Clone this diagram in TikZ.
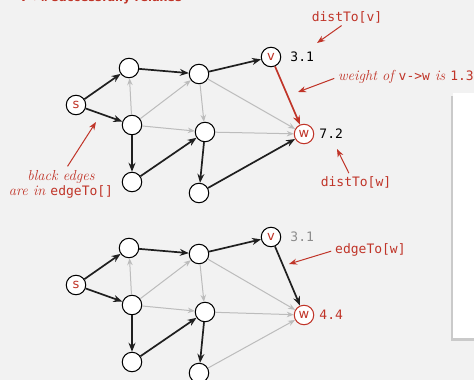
\documentclass[tikz,border=0pt]{standalone}
\usepackage{fontspec}
\setsansfont{DejaVu Sans}
\setmonofont{DejaVu Sans Mono}
\usetikzlibrary{positioning,arrows.meta,shadows}

\definecolor{relaxred}{RGB}{192,52,40}
\definecolor{paper}{RGB}{242,242,242}
\definecolor{lightedge}{RGB}{188,188,188}
\definecolor{olddist}{RGB}{140,140,140}

\newcommand{\remark}[1]{{\rmfamily\itshape\fontsize{14.5}{17}\selectfont #1}}

\tikzset{
  vertex/.style={circle,draw,fill=white,line width=1pt,minimum size=19.5pt,inner sep=0pt,
    text=relaxred,font=\sffamily\fontsize{13}{13}\selectfont},
  tree/.style={-{Stealth[length=9pt,width=7pt]},line width=1.7pt,black!88},
  other/.style={-{Stealth[length=7pt,width=5.5pt]},line width=1pt,lightedge},
  dist/.style={font=\ttfamily\fontsize{13}{15}\selectfont,inner sep=1pt},
  note/.style={text=relaxred,font=\ttfamily\fontsize{13}{15}\selectfont,inner sep=2pt},
  pointer/.style={-{Stealth[length=8pt,width=6pt]},line width=1pt,relaxred}
}

\begin{document}
\begin{tikzpicture}[x=1pt,y=-1pt]
  \useasboundingbox (0,0) rectangle (474,380);
  \fill[paper] (0,0) rectangle (474,380);
  % panel at the right
  \path[fill=white,drop shadow={shadow xshift=-2pt,shadow yshift=-3pt,opacity=0.35}]
    (453,93) rectangle (482,338);
  % title
  \node[anchor=base west,inner sep=0pt,text=relaxred,font=\sffamily\bfseries\fontsize{11.5}{13}\selectfont]
    (title) at (20,1.5) {\texttt{v->w} successfully relaxes};

  % before the relaxation
  \node[vertex] (s) at (76,105) {s};
  \node[vertex] (a) at (129,68) {};
  \node[vertex] (b) at (132,125) {};
  \node[vertex] (c) at (132,182) {};
  \node[vertex] (d) at (199,74) {};
  \node[vertex] (e) at (205,132) {};
  \node[vertex] (f) at (199,193) {};
  \node[vertex] (v) at (271,57) {v};
  \node[vertex,draw=relaxred] (w) at (304,134) {w};
  \draw[other] (b) -- (a);
  \draw[other] (b) -- (d);
  \draw[other] (b) -- (e);
  \draw[other] (d) -- (e);
  \draw[other] (d) -- (w);
  \draw[other] (e) -- (w);
  \draw[tree] (s) -- (a);
  \draw[tree] (s) -- (b);
  \draw[tree] (a) -- (d);
  \draw[tree] (b) -- (c);
  \draw[tree] (c) -- (e);
  \draw[tree] (d) -- (v);
  \draw[tree] (e) -- (f);
  \draw[tree] (f) -- (w);
  \draw[tree,relaxred] (v) -- (w);
  \node[dist,right=8pt of v] (dv) {3.1};
  \node[dist,right=4pt of w] (dw) {7.2};

  % labels of the first graph
  \node[note] (ldv) at (347,17) {distTo[v]};
  \coordinate (tdv) at (317,43);
  \draw[pointer,shorten <=1pt] (ldv.240) -- (tdv);
  \node[note,anchor=west,inner sep=0pt] (lwt) at (338,77)
    {\remark{weight of }v->w\remark{ is }1.3};
  \coordinate (twt) at (298,92);
  \draw[pointer,shorten <=4pt] (lwt.west) -- (twt);
  \node[note] (ldw) at (356,182) {distTo[w]};
  \coordinate (tdw) at (337,149);
  \draw[pointer,shorten <=1pt] (ldw.130) -- (tdw);
  \node[note,align=center,inner sep=1pt] (lbe) at (61,184)
    {\remark{black edges}\\\remark{are in }edgeTo[]};
  \coordinate (tbe) at (96,122);
  \draw[pointer,shorten <=3pt] (lbe.72) -- (tbe);

  % after the relaxation
  \node[vertex] (s2) at (76,285) {s};
  \node[vertex] (a2) at (129,248) {};
  \node[vertex] (b2) at (132,305) {};
  \node[vertex] (c2) at (132,362) {};
  \node[vertex] (d2) at (199,254) {};
  \node[vertex] (e2) at (205,312) {};
  \node[vertex] (f2) at (199,373) {};
  \node[vertex] (v2) at (271,237) {v};
  \node[vertex,draw=relaxred] (w2) at (304,315) {w};
  \draw[other] (b2) -- (a2);
  \draw[other] (b2) -- (d2);
  \draw[other] (b2) -- (e2);
  \draw[other] (d2) -- (e2);
  \draw[other] (d2) -- (w2);
  \draw[other] (e2) -- (w2);
  \draw[other] (f2) -- (w2);
  \draw[tree] (s2) -- (a2);
  \draw[tree] (s2) -- (b2);
  \draw[tree] (a2) -- (d2);
  \draw[tree] (b2) -- (c2);
  \draw[tree] (c2) -- (e2);
  \draw[tree] (d2) -- (v2);
  \draw[tree] (e2) -- (f2);
  \draw[tree] (v2) -- (w2);
  \node[dist,text=olddist,right=8pt of v2] (dv2) {3.1};
  \node[dist,text=relaxred,right=4pt of w2] (dw2) {4.4};

  % label of the second graph
  \node[note,anchor=west,inner sep=0pt] (let) at (335,250) {edgeTo[w]};
  \coordinate (tet) at (289,264);
  \draw[pointer,shorten <=4pt] (let.west) -- (tet);
\end{tikzpicture}
\end{document}
